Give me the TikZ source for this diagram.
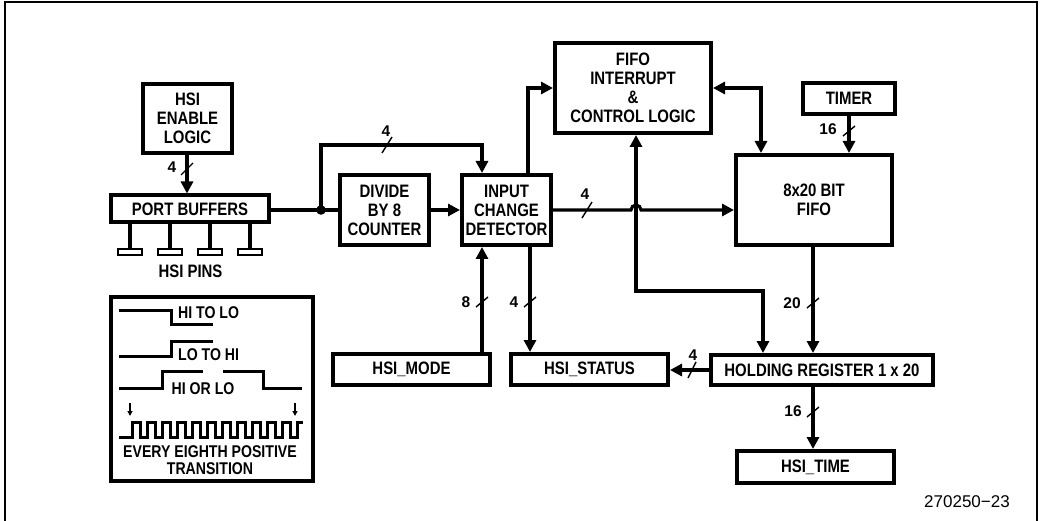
\documentclass[tikz,border=0pt]{standalone}
\usepackage{fontspec}
\setsansfont{Liberation Sans}[FakeStretch=0.83]
\newfontfamily\numfont{Liberation Sans}
\usepackage{tikz}
\usetikzlibrary{arrows.meta,calc}

\begin{document}
\begin{tikzpicture}[x=1pt,y=-1pt,
  btip/.tip={Triangle[length=12pt,width=12pt]},
  stip/.tip={Triangle[length=5pt,width=5pt]},
  blk/.style={draw,line width=4pt,inner sep=0pt,align=center,
    font=\sffamily\bfseries\fontsize{18}{19}\selectfont},
  lbl/.style={inner sep=0pt,align=center,
    font=\sffamily\bfseries\fontsize{18}{19}\selectfont},
  txt/.style={inner sep=0pt,align=center,
    font=\sffamily\bfseries\fontsize{17}{17}\selectfont},
  buslbl/.style={inner sep=0pt,font=\numfont\bfseries\fontsize{15.5}{15.5}\selectfont},
  wire/.style={line width=3.1pt},
  sig/.style={wire,-btip},
  sig2/.style={wire,btip-btip},
  slash/.style={line width=1.4pt},
  pinpad/.style={draw,line width=2.6pt,fill=white,minimum width=24pt,
    minimum height=6pt,inner sep=0pt},
  wave/.style={line width=3pt,line join=miter}]

\useasboundingbox (0,0) rectangle (1041,521);

% frame
\draw[line width=1.8pt] (5,521) -- (5,2) -- (1037,2) -- (1037,521);

% blocks
\node[blk,minimum width=89pt,minimum height=69pt] (enable) at (187.5,118.5)
  {HSI\\ENABLE\\LOGIC};
\node[blk,minimum width=158pt,minimum height=27pt] (port) at (190,209)
  {PORT BUFFERS};
\node[blk,minimum width=89pt,minimum height=70pt] (divide) at (384.5,210)
  {DIVIDE\\BY 8\\COUNTER};
\node[blk,minimum width=89pt,minimum height=70pt] (icd) at (506.5,210)
  {INPUT\\CHANGE\\DETECTOR};
\node[blk,minimum width=156pt,minimum height=90pt] (fint) at (633,88)
  {FIFO\\INTERRUPT\\\&\\CONTROL LOGIC};
\node[blk,minimum width=92pt,minimum height=31pt] (timer) at (849,98.5) {TIMER};
\node[blk,minimum width=156pt,minimum height=90pt] (fifo) at (814,200)
  {8x20 BIT\\FIFO};
\node[blk,minimum width=222pt,minimum height=30pt] (hold) at (822,370)
  {HOLDING REGISTER 1 x 20};
\node[blk,minimum width=157pt,minimum height=31pt] (status) at (589.5,369.5)
  {HSI\_STATUS};
\node[blk,minimum width=157pt,minimum height=31pt] (mode) at (411.5,369.5)
  {HSI\_MODE};
\node[blk,minimum width=157pt,minimum height=32pt] (time) at (815.5,467)
  {HSI\_TIME};

% pins
\foreach \px [count=\i] in {130,170,210,250}{
  \node[pinpad] (pin\i) at (\px,252) {};
  \draw[wire] (port.south -| pin\i) -- (pin\i.north);
}
\node[lbl] (pinlbl) at (190.5,271) {HSI PINS};

% enable -> port buffers
\coordinate (b1) at (187,169);
\draw[sig] (enable.south -| b1) -- (port.north -| b1);
\draw[slash] (b1) +(-6,6) -- +(6,-6);
\node[buslbl] (l1) at (172,167) {4};

% port buffers -> divide, with bypass to detector
\coordinate (jn) at (321,210);
\coordinate (byp) at (482,145);
\draw[wire] (port.east |- jn) -- (divide.west |- jn);
\fill (jn) circle (4.8pt);
\draw[sig] (jn) |- (byp) -- (byp |- icd.north);
\coordinate (b2) at (387,145);
\draw[slash] (b2) +(-5,8) -- +(5,-8);
\node[buslbl] (l2) at (386,131) {4};
\draw[sig] (divide.east) -- (icd.west);

% detector -> fifo interrupt
\coordinate (up1) at (528,88);
\draw[sig] (icd.north -| up1) -- (up1) -- (fint.west);

% fifo interrupt <-> fifo
\coordinate (dn1) at (761,88);
\draw[sig2] (fint.east) -- (dn1) -- (dn1 |- fifo.north);

% timer -> fifo
\coordinate (b3) at (849,131);
\draw[sig] (timer.south) -- (timer.south |- fifo.north);
\draw[slash] (b3) +(-6,5) -- +(6,-5);
\node[buslbl] (l3) at (828,129) {16};

% detector -> fifo, hopping the control line
\coordinate (hop) at (636,210);
\draw[sig] (icd.east |- hop) -- ([xshift=-5pt]hop)
  arc[start angle=180,end angle=0,radius=5pt] -- (fifo.west |- hop);
\coordinate (b4) at (587,210);
\draw[slash] (b4) +(-5,8) -- +(5,-8);
\node[buslbl] (l4) at (585,194) {4};

% control logic <-> holding register
\coordinate (lp1) at (636,291);
\coordinate (lp2) at (763,291);
\draw[sig2] (fint.south -| lp1) -- (lp1) -- (lp2) -- (lp2 |- hold.north);

% fifo -> holding register
\coordinate (b5) at (813,303);
\draw[sig] (fifo.south -| b5) -- (hold.north -| b5);
\draw[slash] (b5) +(-6,5) -- +(6,-5);
\node[buslbl] (l5) at (792,303) {20};

% holding register -> status
\coordinate (b6) at (692,370);
\draw[sig] (hold.west) -- (status.east |- hold.west);
\draw[slash] (b6) +(-4,8) -- +(4,-8);
\node[buslbl] (l6) at (693,355) {4};

% mode -> detector
\coordinate (b7) at (482,302);
\draw[sig] (mode.north -| b7) -- (icd.south -| b7);
\draw[slash] (b7) +(-6,5) -- +(6,-5);
\node[buslbl] (l7) at (466,302) {8};

% detector -> status
\coordinate (b8) at (530,302);
\draw[sig] (icd.south -| b8) -- (status.north -| b8);
\draw[slash] (b8) +(-6,5) -- +(6,-5);
\node[buslbl] (l8) at (514,302) {4};

% holding register -> time
\coordinate (b9) at (813,412);
\draw[sig] (hold.south -| b9) -- (time.north -| b9);
\draw[slash] (b9) +(-6,5) -- +(6,-5);
\node[buslbl] (l9) at (793,411) {16};

% legend
\node[blk,minimum width=202pt,minimum height=184pt] (legend) at (212,389) {};
\draw[wave] (119,310) -- (171,310) -- (171,324) -- (213,324);
\node[txt,anchor=west] (hilo) at (178,313) {HI TO LO};
\draw[wave] (119,356) -- (171,356) -- (171,341) -- (213,341);
\node[txt,anchor=west] (lohi) at (178,355) {LO TO HI};
\draw[wave] (119,388) -- (162,388) -- (162,371) -- (203,371);
\draw[wave] (223,371) -- (263,371) -- (263,388) -- (302,388);
\node[txt] (hiorlo) at (203,388.5) {HI OR LO};
\draw[line width=1.3pt,-stip] (130,403) -- (130,416);
\draw[line width=1.3pt,-stip] (295,403) -- (295,416);
\draw[wave] (119,437) -- (132,437)
  \foreach \k in {0,...,10}{ -- ++(0,-15) -- ++(8,0) -- ++(0,15) -- ++(7,0) }
  -- ++(0,-15) -- ++(6,0);
\node[txt] (every) at (210,460) {EVERY EIGHTH POSITIVE\\TRANSITION};

% figure number
\node[inner sep=0pt,font=\numfont\fontsize{17}{17}\selectfont] (fignum)
  at (967,502) {270250−23};

\end{tikzpicture}
\end{document}
